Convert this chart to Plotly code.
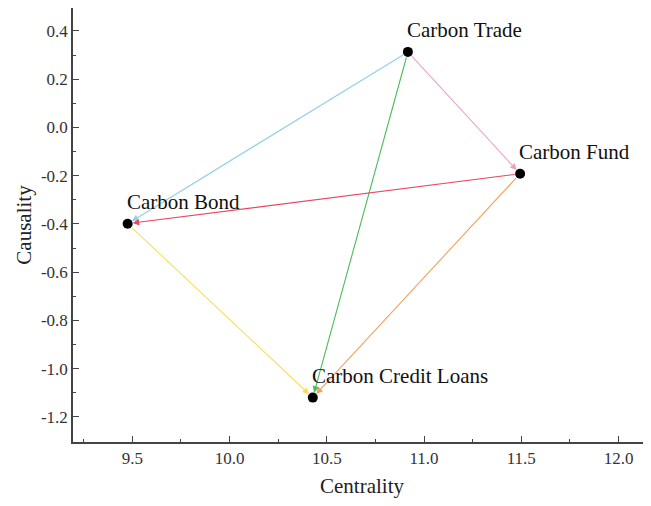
import plotly.graph_objects as go

names = ["Carbon Trade", "Carbon Fund", "Carbon Bond", "Carbon Credit Loans"]
centrality = [10.917, 11.494, 9.476, 10.428]
causality = [0.313, -0.192, -0.399, -1.12]

edge_src = ["Carbon Trade", "Carbon Trade", "Carbon Trade", "Carbon Fund", "Carbon Fund", "Carbon Bond"]
edge_dst = ["Carbon Bond", "Carbon Fund", "Carbon Credit Loans", "Carbon Bond", "Carbon Credit Loans", "Carbon Credit Loans"]
edge_colors = ["#8fd0ec", "#eaa3c4", "#4cbb5e", "#e8475e", "#f5a05c", "#f7e05a"]

x_ticks = [9.5, 10.0, 10.5, 11.0, 11.5, 12.0]
y_ticks = [0.4, 0.2, 0.0, -0.2, -0.4, -0.6, -0.8, -1.0, -1.2]

x_title = "Centrality"
y_title = "Causality"

pos = {n: (x, y) for n, x, y in zip(names, centrality, causality)}
FONT = "Liberation Serif, Times New Roman, serif"

fig = go.Figure()
fig.add_trace(go.Scatter(
    x=centrality, y=causality, mode="markers",
    marker=dict(size=10, color="black"), showlegend=False, hoverinfo="text", text=names,
))

annotations = []
for s, d, c in zip(edge_src, edge_dst, edge_colors):
    x0, y0 = pos[s]
    x1, y1 = pos[d]
    annotations.append(dict(
        x=x1, y=y1, ax=x0, ay=y0, xref="x", yref="y", axref="x", ayref="y",
        text="", showarrow=True, arrowhead=2, arrowsize=1.2, arrowwidth=1.1,
        arrowcolor=c, standoff=5, startstandoff=4,
    ))
for n, x, y in zip(names, centrality, causality):
    annotations.append(dict(
        x=x, y=y, xref="x", yref="y", text=n, showarrow=False,
        xanchor="left", yanchor="bottom", xshift=-3, yshift=8,
        font=dict(family=FONT, size=21, color="#111"),
    ))

fig.update_layout(
    width=643, height=490,
    margin=dict(l=65, r=0, t=0, b=56),
    paper_bgcolor="white", plot_bgcolor="white",
    font=dict(family=FONT, size=17, color="#222"),
    annotations=annotations,
    xaxis=dict(
        range=[9.195, 12.167], tickvals=x_ticks, ticktext=[f"{v:.1f}" for v in x_ticks],
        ticks="inside", ticklen=6, tickwidth=1.2, tickcolor="#444",
        minor=dict(ticks="inside", ticklen=3, tickcolor="#444", dtick=0.25, tick0=9.25),
        showline=True, linecolor="#444", linewidth=1.6, mirror=True,
        showgrid=False, zeroline=False, automargin=False,
        title=dict(text=x_title, font=dict(family=FONT, size=21, color="#222"), standoff=16),
        tickfont=dict(family=FONT, size=17, color="#333"),
    ),
    yaxis=dict(
        range=[-1.304, 0.495], tickvals=y_ticks, ticktext=[f"{v:.1f}" for v in y_ticks],
        ticks="inside", ticklen=6, tickwidth=1.2, tickcolor="#444",
        minor=dict(ticks="inside", ticklen=3, tickcolor="#444", dtick=0.1, tick0=0.1),
        showline=True, linecolor="#444", linewidth=1.6, mirror=False,
        showgrid=False, zeroline=False, automargin=False,
        title=dict(text=y_title, font=dict(family=FONT, size=21, color="#222"), standoff=4),
        tickfont=dict(family=FONT, size=17, color="#333"),
    ),
)

fig.write_html("out.html")
